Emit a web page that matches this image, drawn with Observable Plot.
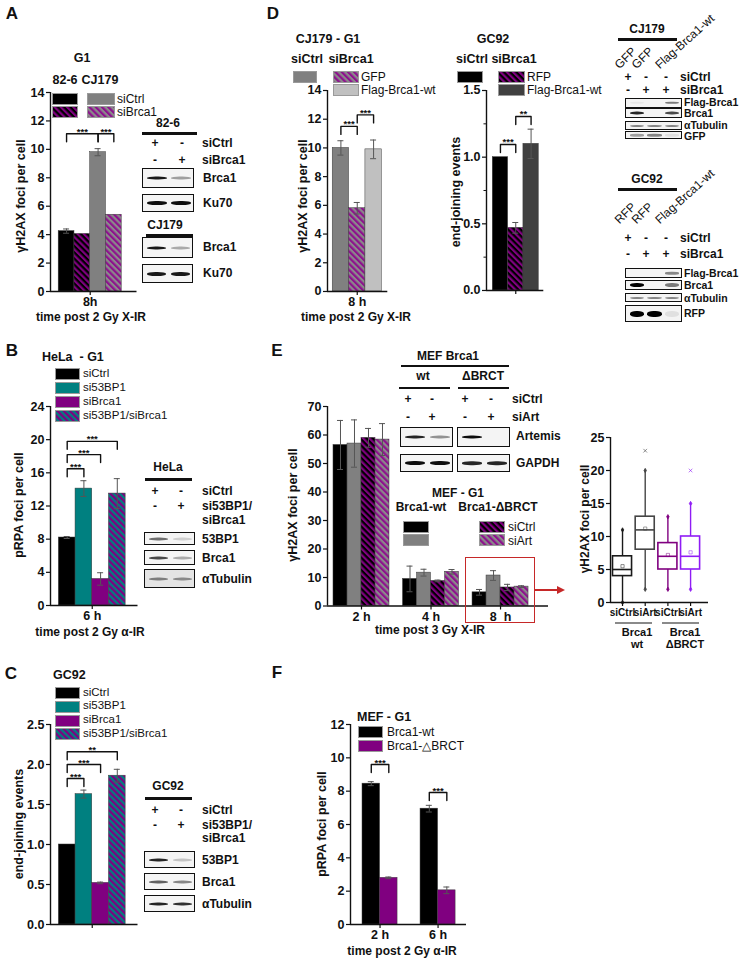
<!DOCTYPE html>
<html><head><meta charset="utf-8">
<script src="https://cdn.jsdelivr.net/npm/d3@7"></script>
<script src="https://cdn.jsdelivr.net/npm/@observablehq/plot@0.6"></script>
<style>
html,body{margin:0;padding:0;background:#fff;}
#fig{position:relative;width:748px;height:961px;overflow:hidden;font-family:"Liberation Sans",Arial,Helvetica,sans-serif;color:#111;}
.t{position:absolute;white-space:pre;line-height:1;}
.abs{position:absolute;}
</style></head>
<body>
<svg width="0" height="0" style="position:absolute;left:0;top:0">
<defs>
<pattern id="hBP" patternUnits="userSpaceOnUse" width="4.4" height="4.4" patternTransform="rotate(-45)"><rect width="4.4" height="4.4" fill="#000"/><rect width="2.2" height="4.4" fill="#800080"/></pattern>
<pattern id="hGP" patternUnits="userSpaceOnUse" width="4.4" height="4.4" patternTransform="rotate(-45)"><rect width="4.4" height="4.4" fill="#8a8a8a"/><rect width="2.2" height="4.4" fill="#8e108e"/></pattern>
<pattern id="hTP" patternUnits="userSpaceOnUse" width="4.4" height="4.4" patternTransform="rotate(-45)"><rect width="4.4" height="4.4" fill="#008080"/><rect width="2.2" height="4.4" fill="#800080"/></pattern>
</defs></svg>
<div id="fig"></div>
<script>
// ================= DATA =================
// Panel A
const A_groups = ["8h"];
const A_series = ["82-6 siCtrl", "82-6 siBrca1", "CJ179 siCtrl", "CJ179 siBrca1"];
const A_values = [[4.25, 4.05, 9.8, 5.4]];
const A_errors = [[0.15, 0, 0.25, 0]];
const A_yTicks = [0, 2, 4, 6, 8, 10, 12, 14];
const A_sig = [["8h", "82-6 siCtrl", "CJ179 siCtrl", 11.1, "***"], ["8h", "CJ179 siCtrl", "CJ179 siBrca1", 11.1, "***"]];

// Panel D (left: CJ179 - G1)
const D1_groups = ["8 h"];
const D1_series = ["siCtrl GFP", "siBrca1 GFP", "siBrca1 Flag-Brca1-wt"];
const D1_values = [[10.0, 5.8, 9.9]];
const D1_errors = [[0.5, 0.4, 0.65]];
const D1_yTicks = [0, 2, 4, 6, 8, 10, 12, 14];
const D1_sig = [["8 h", "siCtrl GFP", "siBrca1 GFP", 11.5, "***"], ["8 h", "siBrca1 GFP", "siBrca1 Flag-Brca1-wt", 12.3, "***"]];

// Panel D (right: GC92)
const D2_groups = [""];
const D2_series = ["siCtrl RFP", "siBrca1 RFP", "siBrca1 Flag-Brca1-wt"];
const D2_values = [[1.0, 0.47, 1.1]];
const D2_errors = [[0, 0.04, 0.11]];
const D2_yTicks = [0, 0.5, 1.0, 1.5];
const D2_minorTicks = [0.25, 0.75, 1.25];
const D2_sig = [["", "siCtrl RFP", "siBrca1 RFP", 1.095, "***"], ["", "siBrca1 RFP", "siBrca1 Flag-Brca1-wt", 1.305, "**"]];

// Panel B (HeLa - G1)
const B_groups = ["6 h"];
const B_series = ["siCtrl", "si53BP1", "siBrca1", "si53BP1/siBrca1"];
const B_values = [[8.2, 14.1, 3.2, 13.5]];
const B_errors = [[0.12, 0.95, 0.75, 1.8]];
const B_yTicks = [0, 4, 8, 12, 16, 20, 24];
const B_sig = [["6 h", "siCtrl", "si53BP1", 16.5, "***"], ["6 h", "siCtrl", "siBrca1", 18.2, "***"], ["6 h", "siCtrl", "si53BP1/siBrca1", 19.8, "***"]];

// Panel C (GC92)
const C_groups = [""];
const C_series = ["siCtrl", "si53BP1", "siBrca1", "si53BP1/siBrca1"];
const C_values = [[1.0, 1.63, 0.52, 1.86]];
const C_errors = [[0, 0.05, 0.01, 0.08]];
const C_yTicks = [0, 0.5, 1.0, 1.5, 2.0, 2.5];
const C_sig = [["", "siCtrl", "si53BP1", 1.825, "***"], ["", "siCtrl", "siBrca1", 2.0, "***"], ["", "siCtrl", "si53BP1/siBrca1", 2.16, "**"]];

// Panel E (MEF - G1)
const E_groups = ["2 h", "4 h", "8\u00a0\u00a0h"];
const E_series = ["wt siCtrl", "wt siArt", "ΔBRCT siCtrl", "ΔBRCT siArt"];
const E_values = [[56.5, 57.0, 59.0, 58.4], [9.5, 11.7, 8.8, 12.0], [4.8, 10.7, 6.5, 6.8]];
const E_errors = [[8.6, 8.3, 3.3, 5.6], [4.5, 1.2, 0.3, 0.8], [1.0, 1.7, 1.1, 0.3]];
const E_yTicks = [0, 10, 20, 30, 40, 50, 60, 70];

// Panel E inset box plot (8 h)
const BOX_labels = ["siCtrl", "siArt", "siCtrl", "siArt"];
const BOX_q1 = [4, 8, 5, 5];
const BOX_median = [5, 11, 7, 7];
const BOX_q3 = [7, 13, 9, 10];
const BOX_low = [0, 2, 2, 2];
const BOX_high = [11, 20, 13, 15];
const BOX_mean = [5.5, 11.2, 7.2, 7.6];
const BOX_outliers = [[], [23], [], [20]];
const BOX_yTicks = [0, 5, 10, 15, 20, 25];

// Panel F (MEF - G1)
const F_groups = ["2 h", "6 h"];
const F_series = ["Brca1-wt", "Brca1-△BRCT"];
const F_values = [[8.45, 2.8], [6.95, 2.05]];
const F_errors = [[0.12, 0.05], [0.2, 0.2]];
const F_yTicks = [0, 2, 4, 6, 8, 10, 12];
const F_sig = [["2 h", "Brca1-wt", "Brca1-△BRCT", 9.6, "***"], ["6 h", "Brca1-wt", "Brca1-△BRCT", 7.92, "***"]];

// Western blot band intensities (lanes left to right)
const blotA1 = [["Brca1", [0.9, 0.35]], ["Ku70", [0.95, 0.95]]];
const blotA2 = [["Brca1", [0.9, 0.3]], ["Ku70", [0.9, 0.9]]];
const blotB = [["53BP1", [0.55, 0.15]], ["Brca1", [0.7, 0.3]], ["αTubulin", [0.45, 0.4]]];
const blotC = [["53BP1", [0.85, 0.2]], ["Brca1", [0.6, 0.45]], ["αTubulin", [0.85, 0.8]]];
const blotD1 = [["Flag-Brca1", [0.05, 0, 0.5]], ["Brca1", [0.85, 0, 0.7]], ["αTubulin", [0.45, 0.45, 0.45]], ["GFP", [0.35, 0.45, 0.08]]];
const blotD2 = [["Flag-Brca1", [0, 0, 0.45]], ["Brca1", [1, 0, 0.5]], ["αTubulin", [0.45, 0.45, 0.45]], ["RFP", [1, 1, 0.08]]];
const blotE_wt = [["Artemis", [0.85, 0.4]], ["GAPDH", [0.95, 0.95]]];
const blotE_dBRCT = [["Artemis", [0.95, 0]], ["GAPDH", [0.85, 0.85]]];

// ================= STYLES =================
const FILLS = {
  "82-6 siCtrl": "#000", "82-6 siBrca1": "url(#hBP)", "CJ179 siCtrl": "#808080", "CJ179 siBrca1": "url(#hGP)",
  "siCtrl GFP": "#808080", "siBrca1 GFP": "url(#hGP)", "siBrca1 Flag-Brca1-wt": "#c0c0c0",
  "siCtrl RFP": "#000", "siBrca1 RFP": "url(#hBP)",
  "siCtrl": "#000", "si53BP1": "#008080", "siBrca1": "#800080", "si53BP1/siBrca1": "url(#hTP)",
  "wt siCtrl": "#000", "wt siArt": "#808080", "ΔBRCT siCtrl": "url(#hBP)", "ΔBRCT siArt": "url(#hGP)",
  "Brca1-wt": "#000", "Brca1-△BRCT": "#800080"
};
const FILLS_D2 = {"siCtrl RFP": "#000", "siBrca1 RFP": "url(#hBP)", "siBrca1 Flag-Brca1-wt": "#404040"};
const BOX_COLORS = ["#1a1a1a", "#454545", "#800080", "#8f1cf5"];
const FONT = '"Liberation Sans", Arial, Helvetica, sans-serif';

// ================= HELPERS =================
const fig = document.getElementById("fig");
const NS = "http://www.w3.org/2000/svg";
function T(x, y, s, o = {}) {
  const el = document.createElement("div");
  el.className = "t";
  el.textContent = s;
  el.style.left = x + "px"; el.style.top = y + "px";
  el.style.fontSize = (o.size ?? 12) + "px";
  el.style.fontWeight = o.weight ?? "bold";
  el.style.color = o.color || "#111";
  const a = o.anchor || "middle";
  if (o.rot === -90) el.style.transform = "translate(-50%,-50%) rotate(-90deg)";
  else if (o.rot) { el.style.transformOrigin = "0 100%"; el.style.transform = `translate(0,-100%) rotate(${o.rot}deg)`; }
  else el.style.transform = `translate(${a === "start" ? "0%" : a === "end" ? "-100%" : "-50%"},-50%)`;
  fig.appendChild(el);
}
function N(x, y, s, o = {}) { T(x, y, s, Object.assign({weight: "normal", anchor: "start", size: 12}, o)); }
function HL(x1, x2, y, w = 2.5, c = "#111") {
  const d = document.createElement("div"); d.className = "abs";
  d.style.cssText += `left:${x1}px;top:${y - w / 2}px;width:${x2 - x1}px;height:${w}px;background:${c};`;
  fig.appendChild(d);
}
function sw(x, y, w, h, fill) {
  const s = document.createElementNS(NS, "svg");
  s.setAttribute("width", w); s.setAttribute("height", h);
  s.style.cssText = `position:absolute;left:${x}px;top:${y}px;overflow:visible`;
  const r = document.createElementNS(NS, "rect");
  r.setAttribute("x", 0.5); r.setAttribute("y", 0.5); r.setAttribute("width", w - 1); r.setAttribute("height", h - 1);
  r.setAttribute("fill", fill); r.setAttribute("stroke", "#9a9a9a"); r.setAttribute("stroke-width", 1);
  s.appendChild(r); fig.appendChild(s);
}
function blot(x, y, w, h, lanes, o = {}) {
  const d = document.createElement("div"); d.className = "abs";
  d.style.cssText += `left:${x}px;top:${y}px;width:${w}px;height:${h}px;border:1.2px solid #111;box-sizing:border-box;background:${o.bg || "#f4f4f4"};overflow:hidden;`;
  const n = lanes.length, bw = (w - 4) / n;
  lanes.forEach((v, i) => {
    if (v <= 0) return;
    const b = document.createElement("div"); b.className = "abs";
    b.style.cssText += `left:${2 + i * bw + bw * 0.1}px;width:${bw * 0.8}px;top:50%;height:${o.band || 3}px;transform:translateY(-50%);background:rgba(0,0,0,${v});border-radius:45%;filter:blur(0.6px);`;
    d.appendChild(b);
  });
  fig.appendChild(d);
}
function place(svg, left, top) {
  const d = document.createElement("div"); d.className = "abs";
  d.style.left = left + "px"; d.style.top = top + "px";
  d.appendChild(svg); fig.appendChild(d);
}
const ML = 45, MR = 12, MT = 10, MB = 26;
const PSTYLE = {fontFamily: FONT, fontSize: "12.5px", fontWeight: "bold", color: "#111", background: "transparent", overflow: "visible", maxWidth: "none"};
function frameMarks(xDomain, yTicks, yFmt, xTicks, xFmt, extra = {}) {
  const m = [
    Plot.ruleX([xDomain[0]], {stroke: "#111", strokeWidth: 1.4}),
    Plot.ruleY([0], {stroke: "#111", strokeWidth: 1.4}),
    Plot.axisY({ticks: yTicks, tickFormat: yFmt, tickSize: 4, tickPadding: 2, label: null, strokeWidth: 1.2}),
    Plot.axisX({ticks: xTicks, tickFormat: xFmt, tickSize: 4, tickPadding: 2, label: null, strokeWidth: 1.2, fontSize: extra.xFontSize})
  ];
  if (extra.minor) m.push(Plot.axisY({ticks: extra.minor, tickFormat: () => "", tickSize: 2.5, label: null}));
  return m;
}
function barChart(cfg) {
  const {groups, series, values, errors, fills, sig = [], x0, x1, y0px, yTopPx, yDomain, yTicks, yFmt = d => d, xDomain, barW = 1, showX = true, minor} = cfg;
  const pxX = (x1 - x0) / (xDomain[1] - xDomain[0]);
  const pxY = (y0px - yTopPx) / (yDomain[1] - yDomain[0]);
  const n = series.length;
  const pos = (gi, si) => gi + (si - (n - 1) / 2) * barW;
  const bars = [];
  groups.forEach((g, gi) => series.forEach((s, si) => bars.push({x: pos(gi, si), v: values[gi][si], e: errors[gi][si], fill: fills[s]})));
  const errs = bars.filter(b => b.e > 0);
  const cap = 3 / pxX, leg = 8 / pxY;
  const bl = [], sl = [];
  sig.forEach(([g, a, b, top, lab], k) => {
    const gi = groups.indexOf(g);
    const xa = pos(gi, series.indexOf(a)), xb = pos(gi, series.indexOf(b));
    bl.push({k, x: xa, y: top - leg}, {k, x: xa, y: top}, {k, x: xb, y: top}, {k, x: xb, y: top - leg});
    sl.push({x: (xa + xb) / 2, y: top, lab});
  });
  const svg = Plot.plot({
    width: x1 - x0 + ML + MR, height: y0px - yTopPx + MT + MB,
    marginLeft: ML, marginRight: MR, marginTop: MT, marginBottom: MB,
    x: {domain: xDomain, axis: null}, y: {domain: yDomain, axis: null},
    color: {type: "identity"},
    style: PSTYLE,
    marks: [
      Plot.rect(bars, {x1: d => d.x - barW / 2, x2: d => d.x + barW / 2, y1: () => 0, y2: "v", fill: "fill", stroke: "#3a3a3a", strokeWidth: 0.5}),
      Plot.ruleX(errs, {x: "x", y1: d => d.v - d.e, y2: d => d.v + d.e, stroke: "#555", strokeWidth: 1}),
      Plot.ruleY(errs, {y: d => d.v + d.e, x1: d => d.x - cap, x2: d => d.x + cap, stroke: "#555", strokeWidth: 1}),
      Plot.ruleY(errs, {y: d => d.v - d.e, x1: d => d.x - cap, x2: d => d.x + cap, stroke: "#555", strokeWidth: 1}),
      Plot.line(bl, {x: "x", y: "y", z: "k", stroke: "#111", strokeWidth: 1.4}),
      Plot.text(sl, {x: "x", y: "y", text: "lab", fontSize: 9.5, fontWeight: "bold", lineAnchor: "bottom", dy: 1}),
      ...frameMarks(xDomain, yTicks, yFmt, d3.range(groups.length), i => showX ? groups[i] : "", {minor})
    ]
  });
  place(svg, x0 - ML, yTopPx - MT);
}

// ================= PANEL A =================
T(12, 13, "A", {size: 17});
T(82, 58, "G1", {size: 12.5});
T(65, 80, "82-6", {size: 12.5}); T(100, 80, "CJ179", {size: 12.5});
sw(52, 93, 26, 12, FILLS[A_series[0]]); sw(52, 106, 26, 12, FILLS[A_series[1]]);
sw(87, 93, 28, 12, FILLS[A_series[2]]); sw(87, 106, 28, 12, FILLS[A_series[3]]);
N(117, 98.5, "siCtrl"); N(117, 112, "siBrca1");
barChart({groups: A_groups, series: A_series, values: A_values, errors: A_errors, fills: FILLS, sig: A_sig,
  x0: 49.5, x1: 136, y0px: 291, yTopPx: 92, yDomain: [0, 14], yTicks: A_yTicks, xDomain: [-2.52, 2.97], barW: 1});
T(21, 196, "γH2AX foci per cell", {rot: -90, size: 12.5});
T(91, 317, "time post 2 Gy X-IR");
// A blots
T(168, 123, "82-6"); HL(142, 197, 133.5, 3);
T(155, 143, "+"); T(182, 143, "-"); T(202, 143, "siCtrl", {anchor: "start"});
T(155, 160, "-"); T(182, 160, "+"); T(202, 160, "siBrca1", {anchor: "start"});
blot(142, 168, 52, 20, blotA1[0][1]); T(203, 178, blotA1[0][0], {anchor: "start"});
blot(142, 194, 52, 18, blotA1[1][1], {band: 4}); T(203, 203, blotA1[1][0], {anchor: "start"});
T(165, 225, "CJ179"); HL(146, 193, 235, 3);
blot(142, 237, 51, 21, blotA2[0][1]); T(203, 247, blotA2[0][0], {anchor: "start"});
blot(142, 264, 51, 19, blotA2[1][1], {band: 4}); T(203, 273, blotA2[1][0], {anchor: "start"});

// ================= PANEL D =================
T(273, 13, "D", {size: 17});
T(328, 39, "CJ179 - G1", {size: 12.5});
T(307, 59, "siCtrl", {size: 12.5}); T(351, 59, "siBrca1", {size: 12.5});
sw(293, 71, 24, 12, FILLS[D1_series[0]]); sw(333, 71, 26, 12, FILLS[D1_series[1]]); sw(333, 84, 26, 12, FILLS[D1_series[2]]);
N(361, 77, "GFP"); N(361, 90, "Flag-Brca1-wt");
barChart({groups: D1_groups, series: D1_series, values: D1_values, errors: D1_errors, fills: FILLS, sig: D1_sig,
  x0: 326.7, x1: 387, y0px: 291, yTopPx: 90, yDomain: [0, 14], yTicks: D1_yTicks, xDomain: [-1.82, 1.87], barW: 1});
T(303, 196, "γH2AX foci per cell", {rot: -90, size: 12.5});
T(356, 317, "time post 2 Gy X-IR");
T(493, 39, "GC92", {size: 12.5});
T(472, 59, "siCtrl", {size: 12.5}); T(514, 59, "siBrca1", {size: 12.5});
sw(457, 71, 26, 12, FILLS_D2[D2_series[0]]); sw(498, 71, 27, 12, FILLS_D2[D2_series[1]]); sw(498, 84, 27, 12, FILLS_D2[D2_series[2]]);
N(527, 77, "RFP"); N(527, 90, "Flag-Brca1-wt");
barChart({groups: D2_groups, series: D2_series, values: D2_values, errors: D2_errors, fills: FILLS_D2, sig: D2_sig,
  x0: 485.7, x1: 543, y0px: 290, yTopPx: 90, yDomain: [0, 1.5], yTicks: D2_yTicks, yFmt: d3.format(".1f"),
  xDomain: [-1.91, 1.83], barW: 1, showX: false, minor: D2_minorTicks});
T(456, 192, "end-joining events", {rot: -90, size: 12.5});
// D blots
function dBlot(title, yT, lab1, lab2, rows, yR, boxes) {
  T(647, yT, title); HL(618, 677, yT + 10, 3);
  T(621, yR, lab1, {rot: -45, weight: "normal", size: 12});
  T(638, yR, lab1, {rot: -45, weight: "normal", size: 12});
  T(661, yR, lab2, {rot: -42, weight: "normal", size: 12});
  T(628, rows[0], "+"); T(646, rows[0], "-"); T(666, rows[0], "-"); T(680, rows[0], "siCtrl", {anchor: "start"});
  T(628, rows[1], "-"); T(646, rows[1], "+"); T(666, rows[1], "+"); T(680, rows[1], "siBrca1", {anchor: "start"});
  boxes.forEach(([yy, hh, lanes, lab, band, ly]) => { blot(625, yy, 57, hh, lanes, {band}); T(684, ly, lab, {anchor: "start", size: 10.5}); });
}
dBlot("CJ179", 29, "GFP", "Flag-Brca1-wt", [76.5, 89.5], 71, [
  [98, 9.5, blotD1[0][1], blotD1[0][0], 2.5, 102.3], [108, 10, blotD1[1][1], blotD1[1][0], 3, 113],
  [121, 9, blotD1[2][1], blotD1[2][0], 2, 124.9], [131, 8, blotD1[3][1], blotD1[3][0], 2.5, 135.8]]);
dBlot("GC92", 179, "RFP", "Flag-Brca1-wt", [237.5, 254], 226, [
  [268, 10, blotD2[0][1], blotD2[0][0], 2.5, 272.8], [280, 10, blotD2[1][1], blotD2[1][0], 4, 284.6],
  [293, 9, blotD2[2][1], blotD2[2][0], 2, 297.5], [305, 17, blotD2[3][1], blotD2[3][0], 6, 313]]);

// ================= PANEL B =================
T(12, 350, "B", {size: 17});
T(42, 357, "HeLa  - G1", {anchor: "start", size: 12.5});
B_series.forEach((s, i) => { sw(55, 368 + i * 14, 25, 12, FILLS[s]); N(83, 374 + i * 14, s, {size: 11.5}); });
barChart({groups: B_groups, series: B_series, values: B_values, errors: B_errors, fills: FILLS, sig: B_sig,
  x0: 49.5, x1: 137, y0px: 605, yTopPx: 406, yDomain: [0, 24], yTicks: B_yTicks, xDomain: [-2.5, 2.74], barW: 1});
T(19, 505, "pRPA foci per cell", {rot: -90, size: 12.5});
T(90, 632, "time post 2 Gy α-IR");
function bcBlot(title, yT, rows, boxes) {
  T(168, yT, title); HL(145, 192, yT + 12, 3);
  T(155, rows[0], "+"); T(181, rows[0], "-"); T(202, rows[0], "siCtrl", {anchor: "start"});
  T(155, rows[1], "-"); T(181, rows[1], "+"); T(202, rows[1], "si53BP1/", {anchor: "start"});
  T(202, rows[2], "siBrca1", {anchor: "start"});
  boxes.forEach(([yy, hh, lanes, lab, bg]) => { blot(144, yy, 51, hh, lanes, {bg}); T(202, yy + hh / 2, lab, {anchor: "start"}); });
}
bcBlot("HeLa", 467, [491, 506, 520], [
  [532, 13, blotB[0][1], blotB[0][0]], [550, 15, blotB[1][1], blotB[1][0]], [569, 19, blotB[2][1], blotB[2][0], "#e4e4e4"]]);

// ================= PANEL C =================
T(11, 673, "C", {size: 17});
T(53, 675, "GC92", {anchor: "start", size: 12.5});
C_series.forEach((s, i) => { sw(55, 687 + i * 13.8, 25, 12, FILLS[s]); N(83, 692.5 + i * 13.8, s, {size: 11.5}); });
barChart({groups: C_groups, series: C_series, values: C_values, errors: C_errors, fills: FILLS, sig: C_sig,
  x0: 49.5, x1: 137, y0px: 924, yTopPx: 724, yDomain: [0, 2.5], yTicks: C_yTicks, yFmt: d3.format(".1f"),
  xDomain: [-2.5, 2.74], barW: 1, showX: false});
T(19, 824, "end-joining events", {rot: -90, size: 12.5});
bcBlot("GC92", 786, [810, 825, 838], [
  [851, 17, blotC[0][1], blotC[0][0]], [873, 17, blotC[1][1], blotC[1][0]], [895, 17, blotC[2][1], blotC[2][0]]]);

// ================= PANEL E =================
T(277, 350, "E", {size: 17});
T(448, 356, "MEF Brca1"); HL(401, 509, 366, 2.5);
T(423, 376, "wt"); T(483, 376, "ΔBRCT"); HL(399, 450, 388, 2.5); HL(458, 509, 388, 2.5);
[408, 432, 465, 491].forEach((x, i) => { T(x, 399, i % 2 ? "-" : "+"); T(x, 417, i % 2 ? "+" : "-"); });
T(512, 399, "siCtrl", {anchor: "start"}); T(512, 417, "siArt", {anchor: "start"});
blot(400, 427, 53, 20, blotE_wt[0][1]); blot(457, 427, 53, 20, blotE_dBRCT[0][1]); T(516, 436, "Artemis", {anchor: "start"});
blot(400, 454, 53, 18, blotE_wt[1][1], {band: 4}); blot(457, 454, 53, 18, blotE_dBRCT[1][1], {band: 3.5}); T(516, 463, "GAPDH", {anchor: "start"});
barChart({groups: E_groups, series: E_series, values: E_values, errors: E_errors, fills: FILLS,
  x0: 327, x1: 548, y0px: 605, yTopPx: 405.5, yDomain: [0, 70], yTicks: E_yTicks, xDomain: [-0.489, 2.69], barW: 0.2014});
T(458, 493, "MEF - G1"); T(421, 507, "Brca1-wt"); T(498, 507, "Brca1-ΔBRCT");
sw(403, 521, 26, 12, FILLS[E_series[0]]); sw(403, 534, 26, 12, FILLS[E_series[1]]);
sw(479, 521, 26, 12, FILLS[E_series[2]]); sw(479, 534, 26, 12, FILLS[E_series[3]]);
N(508, 527, "siCtrl"); N(508, 541, "siArt");
T(293, 505, "γH2AX foci per cell", {rot: -90, size: 12.5});
T(430, 630, "time post 3 Gy X-IR");
{ // red highlight + arrow
  const r = document.createElement("div"); r.className = "abs";
  r.style.cssText += "left:465px;top:557px;width:70px;height:66px;border:1.6px solid #c62828;box-sizing:border-box;";
  fig.appendChild(r);
  HL(535, 558, 590, 1.5, "#c62828");
  const a = document.createElement("div"); a.className = "abs";
  a.style.cssText += "left:557px;top:586px;width:0;height:0;border-top:4px solid transparent;border-bottom:4px solid transparent;border-left:8px solid #c62828;";
  fig.appendChild(a);
}
// Box plot inset
{
  const boxes = BOX_labels.map((l, i) => ({i, q1: BOX_q1[i], med: BOX_median[i], q3: BOX_q3[i], lo: BOX_low[i], hi: BOX_high[i], mean: BOX_mean[i], color: BOX_COLORS[i]}));
  const outl = BOX_outliers.flatMap((o, i) => o.map(v => ({i, v, color: BOX_COLORS[i]})));
  const xDomain = [-0.53, 3.79], x0 = 610, x1 = 708, y0px = 602, yTopPx = 437, hw = 0.42;
  const svg = Plot.plot({
    width: x1 - x0 + ML + MR, height: y0px - yTopPx + MT + MB,
    marginLeft: ML, marginRight: MR, marginTop: MT, marginBottom: MB,
    x: {domain: xDomain, axis: null}, y: {domain: [0, 25], axis: null}, color: {type: "identity"},
    style: PSTYLE,
    marks: [
      Plot.ruleX(boxes, {x: "i", y1: "lo", y2: "q1", stroke: "color", strokeWidth: 1.4}),
      Plot.ruleX(boxes, {x: "i", y1: "q3", y2: "hi", stroke: "color", strokeWidth: 1.4}),
      Plot.rect(boxes, {x1: d => d.i - hw, x2: d => d.i + hw, y1: "q1", y2: "q3", fill: "white", stroke: "color", strokeWidth: 1.6}),
      Plot.ruleY(boxes, {y: "med", x1: d => d.i - hw, x2: d => d.i + hw, stroke: "color", strokeWidth: 1.6}),
      Plot.dot(boxes, {x: "i", y: "lo", symbol: "diamond", r: 1.3, fill: "color", stroke: "color", strokeWidth: 0.8}),
      Plot.dot(boxes, {x: "i", y: "hi", symbol: "diamond", r: 1.3, fill: "color", stroke: "color", strokeWidth: 0.8}),
      Plot.dot(boxes, {x: "i", y: "mean", symbol: "square", r: 1.8, fill: "none", stroke: "color", strokeOpacity: 0.55, strokeWidth: 0.9}),
      Plot.dot(outl, {x: "i", y: "v", symbol: "times", r: 1.8, stroke: "color", strokeOpacity: 0.6, strokeWidth: 1}),
      ...frameMarks(xDomain, BOX_yTicks, d => d, d3.range(BOX_labels.length), i => BOX_labels[i], {xFontSize: 10})
    ]
  });
  place(svg, x0 - ML, yTopPx - MT);
}
T(585, 519, "γH2AX foci per cell", {rot: -90, size: 12});
HL(615, 652, 623, 1.5, "#8a8a8a"); HL(662, 699, 623, 1.5, "#8a8a8a");
T(637, 632, "Brca1", {size: 11}); T(637, 644, "wt", {size: 11});
T(685, 632, "Brca1", {size: 11}); T(685, 644, "ΔBRCT", {size: 11});

// ================= PANEL F =================
T(277, 672, "F", {size: 17});
T(357, 717, "MEF - G1", {anchor: "start", size: 12.5});
sw(358, 726, 25, 12, FILLS[F_series[0]]); sw(358, 740, 25, 12, FILLS[F_series[1]]);
N(387, 732, F_series[0]); N(387, 746, F_series[1]);
barChart({groups: F_groups, series: F_series, values: F_values, errors: F_errors, fills: FILLS, sig: F_sig,
  x0: 350, x1: 466, y0px: 924, yTopPx: 724, yDomain: [0, 12], yTicks: F_yTicks, xDomain: [-0.509, 1.49], barW: 0.302});
T(322, 824, "pRPA foci per cell", {rot: -90, size: 12.5});
T(402, 951, "time post 2 Gy α-IR");
</script>
</body></html>
